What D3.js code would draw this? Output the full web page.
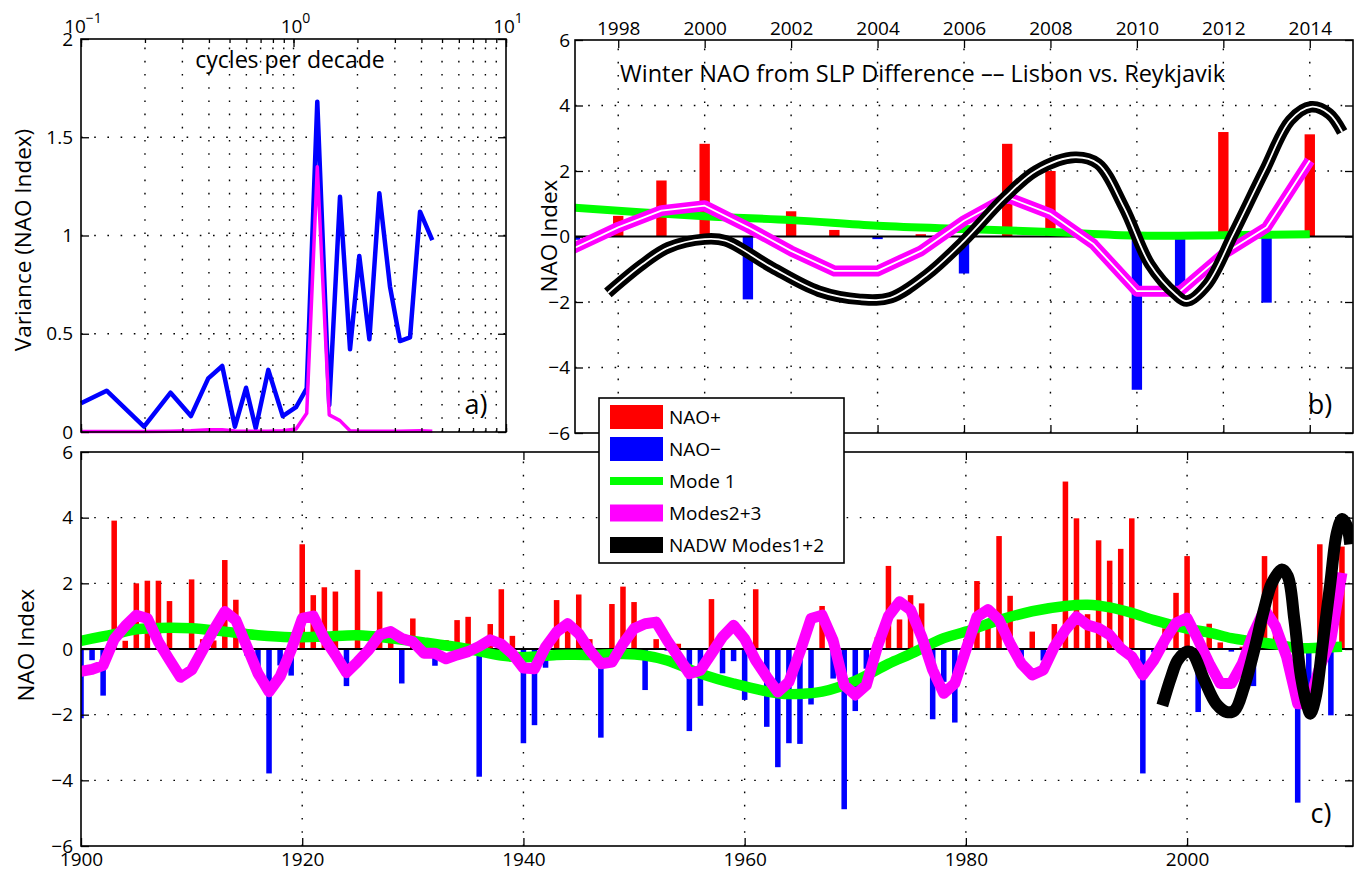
<!DOCTYPE html>
<html lang="en">
<head>
<meta charset="UTF-8">
<title>Winter NAO</title>
<script src="https://d3js.org/d3.v7.min.js"></script>
<style>
  body { margin: 0; background: #fff; }
  text { font-family: 'Open Sans', sans-serif; fill: #000; }
</style>
</head>
<body>
<script>
const width = 1354, height = 872;

// panel a : variance spectrum (cycles per decade)
const freq = [0.1, 0.132, 0.198, 0.264, 0.329, 0.397, 0.462, 0.530, 0.598, 0.664, 0.761, 0.890, 1.028,
              1.154, 1.294, 1.473, 1.655, 1.845, 2.04, 2.275, 2.535, 2.845, 3.17, 3.535, 3.94, 4.5];
const varNAO = [0.146, 0.21, 0.027, 0.2, 0.081, 0.273, 0.336, 0.027, 0.225, 0.019, 0.316, 0.081, 0.126,
                0.222, 1.681, 0.137, 1.197, 0.421, 0.896, 0.472, 1.215, 0.74, 0.463, 0.482, 1.121, 0.977];
const varModes = [0.003, 0.003, 0.003, 0.004, 0.006, 0.012, 0.012, 0.005, 0.004, 0.004, 0.004, 0.006, 0.015,
                  0.095, 1.35, 0.087, 0.058, 0.006, 0.004, 0.004, 0.004, 0.004, 0.004, 0.005, 0.006, 0.004];

// winter NAO index, 1900-2014
const years = d3.range(1900, 2015);
const nao = [
  -2.11, -0.34, -1.42, 3.91, 0.25, 2.0, 2.08, 2.08, 1.46, -0.03,
   2.12, 0.3, 0.26, 2.71, 1.5, -0.2, -0.7, -3.79, -0.5, -0.81,
   3.19, 1.64, 1.88, 1.75, -1.13, 2.41, 0.1, 1.75, 0.2, -1.05,
   0.93, -0.1, -0.51, 0.27, 0.88, 0.98, -3.89, 0.76, 1.82, 0.4,
  -2.87, -2.32, -0.57, 1.49, 0.8, 1.66, 0.3, -2.7, 1.37, 1.9,
   1.43, -1.25, 0.3, -0.05, 0.16, -2.5, -1.73, 1.52, -0.74, -0.37,
  -1.55, 1.82, -2.37, -3.6, -2.87, -2.89, -1.69, 1.31, -0.9, -4.88,
  -1.89, -0.6, 0.36, 2.53, 0.9, 1.64, 1.39, -2.14, -1.0, -2.24,
   0.3, 2.07, 0.9, 3.44, 1.62, -0.3, 0.53, -0.35, 0.76, 5.1,
   3.98, 1.06, 3.31, 2.69, 3.05, 3.98, -3.79, -0.1, 0.63, 1.71,
   2.83, -1.92, 0.77, 0.2, -0.08, 0.07, -1.13, 2.83, 2.0, 0.0,
  -4.68, -1.6, 3.19, -2.02, 3.12
];
const modes23 = [
  -0.68, -0.62, -0.5, 0.3, 0.7, 1.03, 0.93, 0.22, -0.33, -0.86,
  -0.64, -0.03, 0.58, 1.14, 0.88, 0.07, -0.74, -1.3, -0.84, -0.03,
   0.93, 1.0, 0.32, -0.18, -0.72, -0.39, -0.03, 0.43, 0.53, 0.32,
   0.22, -0.13, -0.13, -0.3, -0.18, -0.08, 0.08, 0.28, 0.15, -0.15,
  -0.58, -0.6, 0.06, 0.52, 0.77, 0.47, -0.04, -0.45, -0.4, 0.16,
   0.62, 0.77, 0.82, 0.26, -0.24, -0.75, -0.65, -0.14, 0.37, 0.72,
   0.31, -0.35, -0.85, -1.31, -1.0, -0.09, 0.93, 1.03, 0.26, -1.1,
  -1.4, -1.1, 0.07, 1.0, 1.44, 1.19, 0.38, -0.64, -1.35, -1.05,
  -0.03, 0.98, 1.2, 0.88, 0.17, -0.44, -0.79, -0.64, 0.07, 0.58,
   0.98, 0.73, 0.63, 0.43, 0.02, -0.23, -0.79, -0.34, 0.28, 0.79,
   0.94, 0.28, -0.44, -1.05, -1.05, -0.44, 0.48, 1.2, 0.69, -0.24,
  -1.67, -1.67, -0.54, 0.28, 2.32
];

// mode 1 (slow component), read at selected years
const mode1Years = [1900, 1903, 1905, 1908, 1910, 1913, 1916, 1919, 1922, 1925, 1928, 1931, 1935, 1938,
                    1940, 1943, 1946, 1949, 1951, 1953, 1956, 1959, 1963, 1965, 1967, 1970, 1973, 1975,
                    1978, 1980, 1983, 1986, 1989, 1991, 1993, 1995, 1997, 2000, 2002, 2004, 2006, 2008,
                    2010, 2012, 2014];
const mode1 = [0.25, 0.45, 0.6, 0.65, 0.63, 0.53, 0.42, 0.36, 0.38, 0.42, 0.33, 0.2, 0.0, -0.2,
               -0.25, -0.18, -0.18, -0.15, -0.2, -0.35, -0.75, -1.05, -1.35, -1.37, -1.3, -0.97, -0.45, -0.15,
               0.33, 0.53, 0.88, 1.15, 1.31, 1.35, 1.27, 1.1, 0.88, 0.62, 0.5, 0.33, 0.23, 0.14,
               0.03, 0.04, 0.07];

// NADW modes 1+2
const nadwYears = [1997.76, 1998.56, 1999.16, 2000.0, 2000.48, 2001.56, 2002.64, 2003.6, 2004.3, 2005.15,
                   2006.0, 2006.95, 2007.67, 2008.57, 2009.1, 2009.7, 2010.3, 2010.9, 2011.15, 2011.63,
                   2012.23, 2012.95, 2013.55, 2014.03, 2014.45, 2014.75];
const nadw = [-1.72, -0.85, -0.34, -0.08, -0.13, -0.95, -1.67, -1.92, -1.87, -1.16,
              -0.13, 1.2, 2.01, 2.42, 2.22, 0.89, -0.85, -1.77, -1.97, -1.46,
              0.07, 2.01, 3.55, 3.96, 3.75, 3.19];

const legendLabels = ["NAO+", "NAO\u2212", "Mode 1", "Modes2+3", "NADW Modes1+2"];

const RED = "#ff0000", BLUE = "#0000ff", GREEN = "#00ff00", MAGENTA = "#ff00ff";
const dots = "1.6,11.6";

const svg = d3.select("body").append("svg").attr("width", width).attr("height", height);

function frame(g, x, y) {
    g.append("rect")
        .attr("x", x.range()[0]).attr("y", y.range()[1])
        .attr("width", x.range()[1] - x.range()[0])
        .attr("height", y.range()[0] - y.range()[1])
        .attr("fill", "none").attr("stroke", "#000").attr("stroke-width", 1.6);
}

function grid(g, x, y, xv, yv) {
    g.selectAll(null).data(xv).enter().append("line")
        .attr("x1", d => x(d)).attr("x2", d => x(d))
        .attr("y1", y.range()[0]).attr("y2", y.range()[1])
        .attr("stroke", "#000").attr("stroke-width", 1.4).attr("stroke-dasharray", dots);
    g.selectAll(null).data(yv).enter().append("line")
        .attr("y1", d => y(d)).attr("y2", d => y(d))
        .attr("x1", x.range()[0]).attr("x2", x.range()[1])
        .attr("stroke", "#000").attr("stroke-width", 1.4).attr("stroke-dasharray", dots);
}

function axis(g, gen, tx, ty, size) {
    const a = g.append("g").attr("transform", "translate(" + [tx, ty] + ")").call(gen);
    a.attr("font-family", null).attr("font-size", null);
    a.select(".domain").remove();
    a.selectAll(".tick line").attr("stroke", "#000").attr("stroke-width", 1.3);
    a.selectAll(".tick text").attr("font-size", size || 19);
    return a;
}

function clip(id, x, y) {
    svg.append("clipPath").attr("id", id).append("rect")
        .attr("x", x.range()[0]).attr("y", y.range()[1])
        .attr("width", x.range()[1] - x.range()[0])
        .attr("height", y.range()[0] - y.range()[1]);
}

// ---------------- panel a ----------------
const xA = d3.scaleLog().domain([0.1, 10]).range([81, 506]);
const yA = d3.scaleLinear().domain([0, 2]).range([432, 39]);
const gA = svg.append("g");

grid(gA, xA, yA, xA.ticks().filter(v => v > 0.1 && v < 10), [0.5, 1, 1.5]);

const lineA = d3.line().x(d => xA(d[0])).y(d => yA(d[1]));
gA.append("path").attr("d", lineA(d3.zip(freq, varNAO)))
    .attr("fill", "none").attr("stroke", BLUE).attr("stroke-width", 4.5).attr("stroke-linejoin", "round");
gA.append("path").attr("d", lineA(d3.zip(freq, varModes)))
    .attr("fill", "none").attr("stroke", MAGENTA).attr("stroke-width", 3.5).attr("stroke-linejoin", "round");

axis(gA, d3.axisTop(xA).tickValues([0.1, 1, 10]).tickSizeInner(-8).tickSizeOuter(0).tickFormat(""), 0, 39);
axis(gA, d3.axisTop(xA).tickValues(xA.ticks()).tickSizeInner(-4).tickSizeOuter(0).tickFormat(""), 0, 39);
axis(gA, d3.axisBottom(xA).tickValues([0.1, 1, 10]).tickSizeInner(-8).tickSizeOuter(0).tickFormat(""), 0, 432);
axis(gA, d3.axisBottom(xA).tickValues(xA.ticks()).tickSizeInner(-4).tickSizeOuter(0).tickFormat(""), 0, 432);
axis(gA, d3.axisLeft(yA).tickValues([0, 0.5, 1, 1.5, 2]).tickSizeInner(-8).tickSizeOuter(0).tickPadding(8)
    .tickFormat(d3.format("")), 81, 0);
axis(gA, d3.axisRight(yA).tickValues([0, 0.5, 1, 1.5, 2]).tickSizeInner(-8).tickSizeOuter(0).tickFormat(""), 506, 0);

[[0.1, "\u22121"], [1, "0"], [10, "1"]].forEach(d => {
    const t = gA.append("text").attr("x", xA(d[0]) + 2).attr("y", 33)
        .attr("text-anchor", "middle").attr("font-size", 19).text("10");
    t.append("tspan").attr("dy", -10).attr("font-size", 14).text(d[1]);
});
frame(gA, xA, yA);

gA.append("text").attr("x", 290).attr("y", 68).attr("text-anchor", "middle")
    .attr("font-size", 23).text("cycles per decade");
gA.append("text").attr("x", 476).attr("y", 414).attr("text-anchor", "middle")
    .attr("font-size", 27).text("a)");
gA.append("text").attr("transform", "translate(31,240) rotate(-90)")
    .attr("text-anchor", "middle").attr("font-size", 22.5).text("Variance (NAO Index)");

// ---------------- shared drawing of NAO panels ----------------
function naoPanel(g, x, y, id, barW, lw, inner) {
    clip(id, x, y);
    const body = g.append("g").attr("clip-path", "url(#" + id + ")");
    const bw = x(x.domain()[0] + barW) - x(x.domain()[0]);

    body.selectAll(".bar").data(d3.zip(years, nao)).enter().append("rect").attr("class", "bar")
        .attr("x", d => x(d[0]) - bw / 2).attr("width", bw)
        .attr("y", d => y(Math.max(0, d[1])))
        .attr("height", d => Math.abs(y(d[1]) - y(0)))
        .attr("fill", d => d[1] >= 0 ? RED : BLUE);

    body.append("line").attr("x1", x.range()[0]).attr("x2", x.range()[1])
        .attr("y1", y(0)).attr("y2", y(0)).attr("stroke", "#000").attr("stroke-width", 2);

    const smooth = d3.line().x(d => x(d[0])).y(d => y(d[1])).curve(d3.curveCatmullRom);
    const poly = d3.line().x(d => x(d[0])).y(d => y(d[1]));

    body.append("path").attr("d", smooth(d3.zip(mode1Years, mode1)))
        .attr("fill", "none").attr("stroke", GREEN).attr("stroke-width", lw.green).attr("stroke-linecap", "butt");

    const layers = [[poly(d3.zip(years, modes23)), MAGENTA, lw.magenta], [smooth(d3.zip(nadwYears, nadw)), "#000", lw.black]];
    layers.forEach(l => {
        body.append("path").attr("d", l[0]).attr("fill", "none").attr("stroke", l[1])
            .attr("stroke-width", l[2]).attr("stroke-linejoin", "round");
        if (inner) {
            body.append("path").attr("d", l[0]).attr("fill", "none").attr("stroke", "#fff")
                .attr("stroke-width", 1.8).attr("stroke-linejoin", "round");
        }
    });
}

// ---------------- panel b ----------------
const xB = d3.scaleLinear().domain([1997, 2015]).range([575, 1353]);
const yB = d3.scaleLinear().domain([-6, 6]).range([433, 40]);
const gB = svg.append("g");
const evenYears = d3.range(1998, 2015, 2);

grid(gB, xB, yB, evenYears, [-4, -2, 2, 4]);
naoPanel(gB, xB, yB, "clipB", 0.24, {green: 8, magenta: 11, black: 11.5}, true);

axis(gB, d3.axisTop(xB).tickValues(evenYears).tickSizeInner(-8).tickSizeOuter(0).tickPadding(5)
    .tickFormat(d3.format("d")), 0, 40);
axis(gB, d3.axisBottom(xB).tickValues(evenYears).tickSizeInner(-8).tickSizeOuter(0).tickFormat(""), 0, 433);
axis(gB, d3.axisLeft(yB).tickValues(d3.range(-6, 7, 2)).tickSizeInner(-8).tickSizeOuter(0).tickPadding(5), 575, 0);
axis(gB, d3.axisRight(yB).tickValues(d3.range(-6, 7, 2)).tickSizeInner(-8).tickSizeOuter(0).tickFormat(""), 1353, 0);
frame(gB, xB, yB);

gB.append("text").attr("x", 620).attr("y", 82).attr("font-size", 23.5)
    .text("Winter NAO from SLP Difference \u2013\u2013 Lisbon vs. Reykjavik");
gB.append("text").attr("x", 1320).attr("y", 414).attr("text-anchor", "middle")
    .attr("font-size", 27).text("b)");
gB.append("text").attr("transform", "translate(557,236) rotate(-90)")
    .attr("text-anchor", "middle").attr("font-size", 22.5).text("NAO Index");

// ---------------- panel c ----------------
const xC = d3.scaleLinear().domain([1900, 2015]).range([81, 1353]);
const yC = d3.scaleLinear().domain([-6, 6]).range([846, 452]);
const gC = svg.append("g");
const decades = d3.range(1900, 2015, 20);

grid(gC, xC, yC, decades.slice(1), [-4, -2, 2, 4]);
naoPanel(gC, xC, yC, "clipC", 0.5, {green: 10.5, magenta: 11, black: 12}, false);

axis(gC, d3.axisBottom(xC).tickValues(decades).tickSizeInner(-8).tickSizeOuter(0).tickPadding(6)
    .tickFormat(d3.format("d")), 0, 846);
axis(gC, d3.axisTop(xC).tickValues(decades).tickSizeInner(-8).tickSizeOuter(0).tickFormat(""), 0, 452);
axis(gC, d3.axisLeft(yC).tickValues(d3.range(-6, 7, 2)).tickSizeInner(-8).tickSizeOuter(0).tickPadding(8), 81, 0);
axis(gC, d3.axisRight(yC).tickValues(d3.range(-6, 7, 2)).tickSizeInner(-8).tickSizeOuter(0).tickFormat(""), 1353, 0);
frame(gC, xC, yC);

gC.append("text").attr("x", 1321).attr("y", 823).attr("text-anchor", "middle")
    .attr("font-size", 27).text("c)");
gC.append("text").attr("transform", "translate(34,645) rotate(-90)")
    .attr("text-anchor", "middle").attr("font-size", 22.5).text("NAO Index");

// ---------------- legend ----------------
const legend = svg.append("g").attr("transform", "translate(599,398)");
legend.append("rect").attr("width", 245).attr("height", 165)
    .attr("fill", "#fff").attr("stroke", "#000").attr("stroke-width", 1.6);
const swatch = [[RED, 24], [BLUE, 24], [GREEN, 8], [MAGENTA, 17], ["#000", 16]];
legendLabels.forEach((label, i) => {
    const cy = 19 + i * 32;
    legend.append("rect").attr("x", 11).attr("y", cy - swatch[i][1] / 2)
        .attr("width", 53).attr("height", swatch[i][1]).attr("fill", swatch[i][0]);
    legend.append("text").attr("x", 70).attr("y", cy + 6.5).attr("font-size", 19).text(label);
});
</script>
</body>
</html>
